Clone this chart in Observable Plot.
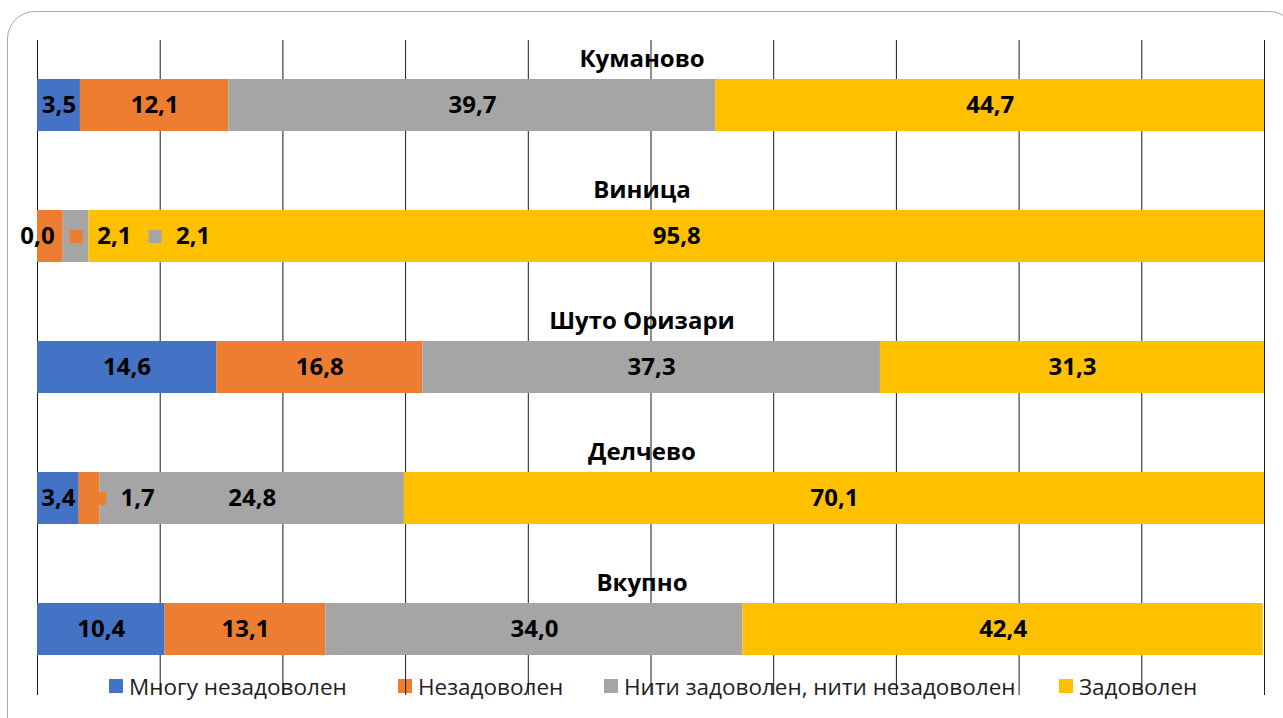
<!DOCTYPE html>
<html>
<head>
<meta charset="utf-8">
<script src="https://cdn.jsdelivr.net/npm/d3@7"></script>
<script src="https://cdn.jsdelivr.net/npm/@observablehq/plot@0.6"></script>
<style>
  html, body { margin: 0; padding: 0; background: #fff; overflow: hidden; }
  #wrap { position: relative; width: 1283px; height: 718px; overflow: hidden; font-family: "Open Sans", Lato, sans-serif; }
  #frame { position: absolute; left: 7px; top: 11px; width: 1290px; height: 760px; border: 1.5px solid #a6a6a6; border-radius: 28px; box-sizing: border-box; }
  #legend { position: absolute; left: 0; top: 671px; width: 1283px; height: 30px; z-index: 0; }
  .item { position: absolute; top: 0; display: flex; align-items: center; height: 30px; font-size: 22.5px; color: #1e1e1e; white-space: nowrap; }
  .key { width: 14px; height: 14px; margin-right: 6px; flex: none; }
  #chart { position: absolute; left: 0; top: 0; z-index: 1; }
  #chart svg { background: transparent; }
</style>
</head>
<body>
<div id="wrap">
  <div id="frame"></div>
  <div id="legend"></div>
  <div id="chart"></div>
</div>
<script>
// ---- data ----
const categories = ["Куманово", "Виница", "Шуто Оризари", "Делчево", "Вкупно"];
const seriesNames = ["Многу незадоволен", "Незадоволен", "Нити задоволен, нити незадоволен", "Задоволен"];
const veryDissatisfied = [3.5, 0.0, 14.6, 3.4, 10.4];
const dissatisfied = [12.1, 2.1, 16.8, 1.7, 13.1];
const neutral = [39.7, 2.1, 37.3, 24.8, 34.0];
const satisfied = [44.7, 95.8, 31.3, 70.1, 42.4];
const xTicks = [0, 10, 20, 30, 40, 50, 60, 70, 80, 90, 100];
const colors = ["#4472C4", "#ED7D31", "#A5A5A5", "#FFC000"];

// callout labels moved out of thin segments (pixel nudges)
const callouts = [
  {category: "Виница", series: "Незадоволен", dx: 64},
  {category: "Виница", series: "Нити задоволен, нити незадоволен", dx: 117},
  {category: "Делчево", series: "Незадоволен", dx: 48}
];

const seriesValues = [veryDissatisfied, dissatisfied, neutral, satisfied];
const rows = [];
categories.forEach((c, i) => {
  let acc = 0;
  seriesNames.forEach((s, j) => {
    const v = seriesValues[j][i];
    rows.push({category: c, series: s, value: v, x1: acc, x2: acc + v});
    acc += v;
  });
});

const fmt = v => v.toFixed(1).replace(".", ",");
const isCallout = d => callouts.some(k => k.category === d.category && k.series === d.series);
const labelFont = 24;

const calloutMarks = callouts.flatMap(k => {
  const data = rows.filter(d => d.category === k.category && d.series === k.series);
  return [
    Plot.dot(data, {x: d => (d.x1 + d.x2) / 2, y: "category", dx: k.dx - 38, symbol: "square", r: 7.4, fill: d => d.series, stroke: null}),
    Plot.text(data, {x: d => (d.x1 + d.x2) / 2, y: "category", dx: k.dx, text: d => fmt(d.value), fontWeight: "bold", fontSize: labelFont, fill: "#000"})
  ];
});

const chart = Plot.plot({
  width: 1283,
  height: 718,
  marginLeft: 37,
  marginRight: 19,
  marginTop: 40,
  marginBottom: 23,
  style: {fontFamily: "'Open Sans', Lato, sans-serif", background: "transparent", overflow: "visible"},
  x: {domain: [0, 100], axis: null},
  y: {domain: categories, axis: null, paddingInner: 0.6, paddingOuter: 0.3},
  color: {domain: seriesNames, range: colors},
  marks: [
    Plot.ruleX(xTicks, {stroke: "#1a1a1a", strokeWidth: 1}),
    Plot.barX(rows, {x1: "x1", x2: "x2", y: "category", fill: "series", inset: 0}),
    Plot.text(rows.filter(d => !isCallout(d)), {x: d => (d.x1 + d.x2) / 2, y: "category", text: d => fmt(d.value), fontWeight: "bold", fontSize: labelFont, fill: "#000"}),
    ...calloutMarks,
    Plot.text(categories, {y: d => d, text: d => d, frameAnchor: "middle", dx: -9, dy: -46, fontWeight: "bold", fontSize: 24, fill: "#000"})
  ]
});
document.getElementById("chart").appendChild(chart);

// ---- legend (HTML, under the gridlines) ----
const legendLefts = [109, 398, 604, 1059];
const legend = document.getElementById("legend");
seriesNames.forEach((s, j) => {
  const it = document.createElement("div");
  it.className = "item";
  it.style.left = legendLefts[j] + "px";
  it.innerHTML = `<span class="key" style="background:${colors[j]}"></span><span>${s}</span>`;
  legend.appendChild(it);
});
</script>
</body>
</html>
